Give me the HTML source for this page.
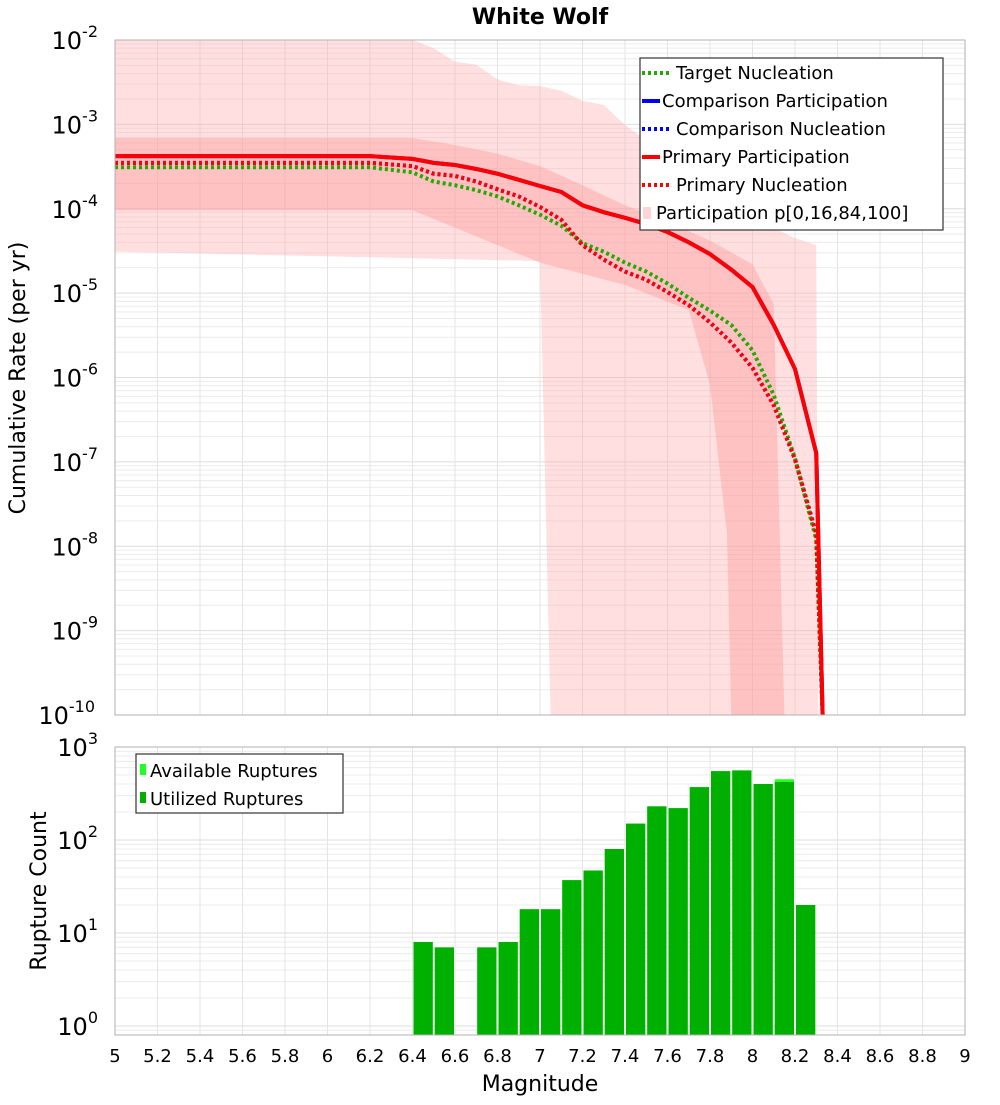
<!DOCTYPE html>
<html><head><meta charset="utf-8"><style>
body{margin:0;background:#fff;}
svg text{font-family:"DejaVu Sans","Liberation Sans",sans-serif;}
</style></head><body>
<svg id="chart" width="1000" height="1100" xmlns="http://www.w3.org/2000/svg"></svg>
<script>
// ---- data ----
const partMags = [5,6.2,6.4,6.5,6.6,6.7,6.8,6.9,7.0,7.1,7.2,7.3,7.4,7.5,7.6,7.7,7.8,7.9,8.0,8.1,8.2,8.3,8.33];
const primaryPart = [4.2e-4,4.2e-4,3.9e-4,3.5e-4,3.3e-4,2.96e-4,2.6e-4,2.2e-4,1.86e-4,1.58e-4,1.1e-4,9.1e-5,7.8e-5,6.6e-5,5.3e-5,4.0e-5,2.9e-5,1.9e-5,1.18e-5,4.2e-6,1.26e-6,1.27e-7,1e-10];
const comparisonPart = primaryPart.slice();
const targetNucl = [3.1e-4,3.1e-4,2.7e-4,2.1e-4,1.9e-4,1.66e-4,1.4e-4,1.1e-4,8.5e-5,6.3e-5,3.9e-5,3.1e-5,2.3e-5,1.8e-5,1.3e-5,8.8e-6,6.2e-6,4.2e-6,2.1e-6,6.2e-7,1.1e-7,1.2e-8,1e-10];
const primaryNucl = [3.5e-4,3.5e-4,3.2e-4,2.6e-4,2.45e-4,2.1e-4,1.7e-4,1.4e-4,1.05e-4,7.4e-5,3.7e-5,2.5e-5,1.8e-5,1.44e-5,1.03e-5,7.2e-6,4.5e-6,2.6e-6,1.3e-6,4.7e-7,1.07e-7,1.4e-8,1e-10];
const comparisonNucl = primaryNucl.slice();
const outerUpMags = [5,6.4,6.5,6.6,6.7,6.8,6.9,7.0,7.1,7.2,7.3,7.4,7.5,7.6,7.7,7.8,7.9,8.0,8.1,8.2,8.3,8.31];
const outerUp = [1e-2,1e-2,8e-3,5.5e-3,5.1e-3,3.4e-3,2.9e-3,2.85e-3,2.5e-3,1.9e-3,1.7e-3,9.8e-4,6.5e-4,4.3e-4,2.9e-4,1.9e-4,1.26e-4,8.4e-5,5.9e-5,4.5e-5,3.7e-5,1e-10];
const outerLoMags = [5,7.0,7.05,8.31];
const outerLo = [3.1e-5,2.4e-5,1e-10,1e-10];
const innerUpMags = [5,6.4,6.6,6.8,7.0,7.2,7.4,7.6,7.8,8.0,8.1,8.15];
const innerUp = [6.9e-4,6.9e-4,5.7e-4,4.5e-4,3.2e-4,1.9e-4,1.1e-4,7e-5,4.2e-5,2.2e-5,7.4e-6,1e-10];
const innerLoMags = [5,6.4,7.0,7.4,7.7,7.8,7.88,7.9];
const innerLo = [9.6e-5,9.6e-5,2.3e-5,1.25e-5,6.3e-6,8.2e-7,1.4e-8,1e-10];
const binStarts = [6.4,6.5,6.7,6.8,6.9,7.0,7.1,7.2,7.3,7.4,7.5,7.6,7.7,7.8,7.9,8.0,8.1,8.2];
const availCounts = [8,7,7,8,18,18,37,47,80,150,230,220,370,550,560,400,450,20];
const usedCounts = [8,7,7,8,18,18,37,47,80,150,230,220,370,550,560,400,420,20];
const xTicks = [5,5.2,5.4,5.6,5.8,6,6.2,6.4,6.6,6.8,7,7.2,7.4,7.6,7.8,8,8.2,8.4,8.6,8.8,9];
const topExp = [-2,-3,-4,-5,-6,-7,-8,-9,-10];
const botExp = [3,2,1,0];

// ---- layout ----
const svg = document.getElementById('chart');
const NS = 'http://www.w3.org/2000/svg';
const X0=115,X1=965, T0=40,T1=715, B0=747,B1=1035;
const xs = m => X0 + (m-5)/4*(X1-X0);
const yt = v => T0 + (-2 - Math.log10(v))*(T1-T0)/8;
const yb = v => 1026 - Math.log10(v)*93;
function el(tag, attrs, parent){const e=document.createElementNS(NS,tag);for(const k in attrs)e.setAttribute(k,attrs[k]);(parent||svg).appendChild(e);return e;}

// backgrounds & grids
function panel(y0,y1,ylo,yhi,yf,name){
  const g=el('g',{});
  
  
  el('rect',{x:X0,y:y0,width:X1-X0,height:y1-y0,fill:'#fff'},g);
  for(let e=ylo;e<yhi;e++){for(let k=1;k<10;k++){const y=yf(k*Math.pow(10,e));if(y<y0||y>y1)continue;
    el('line',{x1:X0,x2:X1,y1:y,y2:y,stroke:k==1?'#dedede':'#ececec','stroke-width':1},g);}}
  xTicks.forEach(t=>{const x=xs(t);el('line',{x1:x,x2:x,y1:y0,y2:y1,stroke:'#e4e4e4','stroke-width':1},g);});
  return g;
}
panel(T0,T1,-10,-2,yt,'top-plot-grid');
panel(B0,B1,-1,3,yb,'bottom-plot-grid');

// bands
function band(upM,up,loM,lo,fill,name){
  let pts=upM.map((m,i)=>xs(m)+','+Math.max(T0,yt(up[i])));
  for(let i=loM.length-1;i>=0;i--)pts.push(xs(loM[i])+','+Math.min(T1,yt(lo[i])));
  const p=el('polygon',{points:pts.join(' '),fill:fill});
  
  
}
band(outerUpMags,outerUp,outerLoMags,outerLo,'rgba(255,170,170,0.38)','band-p0-p100');
band(innerUpMags,innerUp,innerLoMags,innerLo,'rgba(255,150,150,0.4)','band-p16-p84');

function line(vals,color,dash,w,name){
  const d=partMags.map((m,i)=>(i?'L':'M')+xs(m)+','+Math.min(T1,yt(vals[i]))).join(' ');
  const p=el('path',{d:d,fill:'none',stroke:color,'stroke-width':w,'stroke-dasharray':dash||'none'});
  
  
}
line(comparisonPart,'#0000ff','',4,'comparison-participation-line');
line(comparisonNucl,'#0000ff','3,3',4,'comparison-nucleation-line');
line(targetNucl,'#22aa00','3,3',4,'target-nucleation-line');
line(primaryPart,'#ff0000','',4,'primary-participation-line');
line(primaryNucl,'#ff0000','3,3',4,'primary-nucleation-line');

// bars
binStarts.forEach((b,i)=>{
  const x=xs(b)+1,w=xs(b+0.1)-xs(b)-2;
  const a=el('rect',{x:x,y:yb(availCounts[i]),width:w,height:B1-yb(availCounts[i]),fill:'#22ff22'});
  
  
  const u=el('rect',{x:x,y:yb(usedCounts[i]),width:w,height:B1-yb(usedCounts[i]),fill:'#00b000'});
  
  
});

// frames
el('rect',{x:X0,y:T0,width:X1-X0,height:T1-T0,fill:'none',stroke:'#b0b0b0'});
el('rect',{x:X0,y:B0,width:X1-X0,height:B1-B0,fill:'none',stroke:'#b0b0b0'});

// ticks labels
function powLabel(x,y,e,name){
  const t=el('text',{x:x,y:y,'font-size':24,'text-anchor':'end',fill:'#000'});
  
  
  t.textContent='10';
  const s=el('tspan',{dy:-12,'font-size':16},t); s.textContent=String(e);
}
topExp.forEach(e=>powLabel(e<=-10?95:98,yt(Math.pow(10,e))+9,e,'y-tick-top'));
botExp.forEach(e=>powLabel(98,yb(Math.pow(10,e))+(e==3?9:9),e,'y-tick-bottom'));
xTicks.forEach(t=>{const tx=el('text',{x:xs(t),y:1062,'font-size':18,'text-anchor':'middle'});
  
  
  tx.textContent=String(t);});

function txt(s,attrs,name){const t=el('text',attrs);t.textContent=s;
  
  return t;}
txt('White Wolf',{x:540,y:24,'font-size':22,'font-weight':'bold','text-anchor':'middle'},'chart-title');
txt('Magnitude',{x:540,y:1091,'font-size':22,'text-anchor':'middle'},'x-axis-title');
txt('Cumulative Rate (per yr)',{x:0,y:0,'font-size':22,'text-anchor':'middle',transform:'translate(25,378) rotate(-90)'},'y-axis-title-top');
txt('Rupture Count',{x:0,y:0,'font-size':22,'text-anchor':'middle',transform:'translate(46,891) rotate(-90)'},'y-axis-title-bottom');

// legends
const lg=el('g',{});  
el('rect',{x:640,y:58,width:303,height:172,fill:'#fff',stroke:'#333','stroke-width':1.2},lg);
const ent=[['Target Nucleation','#22aa00',1],['Comparison Participation','#0000ff',0],['Comparison Nucleation','#0000ff',1],['Primary Participation','#ff0000',0],['Primary Nucleation','#ff0000',1]];
ent.forEach((e,i)=>{const y=73+i*28;
  el('line',{x1:642,x2:e[2]?670:660,y1:y,y2:y,stroke:e[1],'stroke-width':4,'stroke-dasharray':e[2]?'3,3':'none'},lg);
  txt(e[0],{x:e[2]?676:662,y:y+6,'font-size':18},'legend-entry');});
el('rect',{x:643,y:207,width:8,height:12,fill:'rgba(255,170,170,0.5)'},lg);
txt('Participation p[0,16,84,100]',{x:656,y:219,'font-size':18},'legend-entry');

const lb=el('g',{});  
el('rect',{x:136,y:754,width:207,height:59,fill:'#fff',stroke:'#333','stroke-width':1.2},lb);
el('rect',{x:140,y:764,width:6,height:11,fill:'#22ff22'},lb);
el('rect',{x:140,y:792,width:6,height:11,fill:'#00b000'},lb);
txt('Available Ruptures',{x:150,y:777,'font-size':18},'legend-entry');
txt('Utilized Ruptures',{x:150,y:805,'font-size':18},'legend-entry');
</script>
</body></html>
